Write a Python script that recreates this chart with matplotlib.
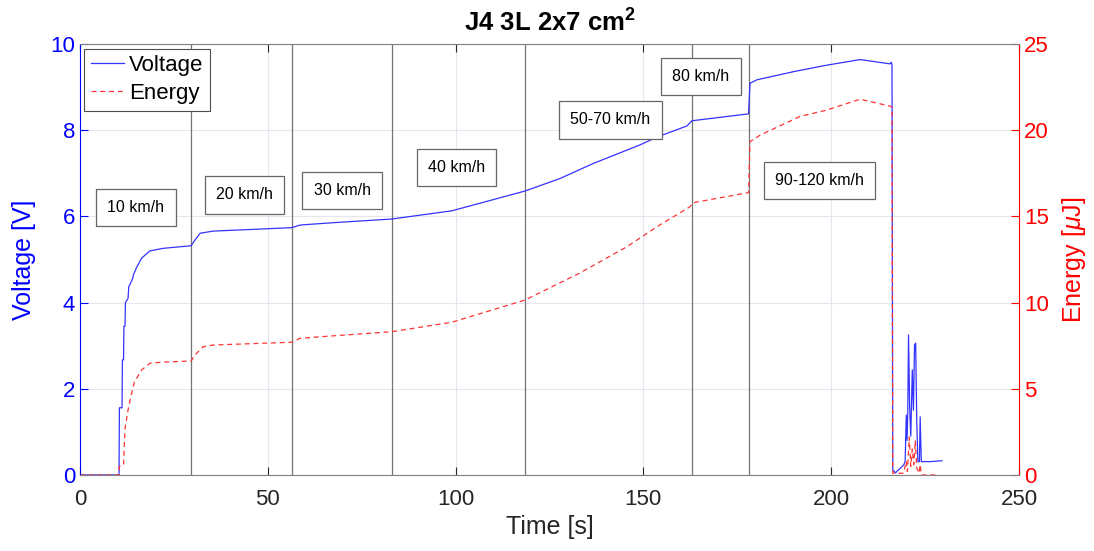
import numpy as np
import matplotlib
matplotlib.use("Agg")
import matplotlib.pyplot as plt

plt.rcParams['font.family'] = ['Liberation Sans', 'DejaVu Sans']
plt.rcParams['mathtext.fontset'] = 'custom'
plt.rcParams['mathtext.rm'] = 'Liberation Sans'
plt.rcParams['mathtext.it'] = 'Liberation Sans:italic'
plt.rcParams['mathtext.bf'] = 'Liberation Sans:bold'

# voltage trace [s], [V]
t_volt = [0, 10.4, 10.5, 11.2, 11.3, 11.6, 11.7, 12.0, 12.1, 12.8, 13.0, 14.0,
          14.2, 15.1, 16.4, 18.6, 22.2, 29.6, 30.6, 32.0, 35.5, 48.8, 56.4,
          58.6, 66.6, 83.0, 99.0, 118.5, 127.8, 136.7, 149.1, 153.6, 161.6,
          162.9, 178.0, 178.4, 180.2, 190.0, 198.8, 207.7, 208.6, 215.7, 216.0,
          216.2, 216.4, 217.1, 219.3, 219.7, 220.0, 220.2, 220.4, 220.6, 220.9,
          221.2, 221.6, 221.9, 222.2, 222.5, 222.8, 223.1, 223.5, 223.7, 224.0,
          226.4, 229.5]
volt = [0, 0, 1.56, 1.56, 2.67, 2.67, 3.45, 3.45, 4.0, 4.1, 4.37, 4.55,
        4.64, 4.82, 5.03, 5.2, 5.26, 5.32, 5.45, 5.61, 5.66, 5.71, 5.74,
        5.80, 5.85, 5.94, 6.13, 6.59, 6.88, 7.23, 7.66, 7.84, 8.10,
        8.22, 8.38, 9.09, 9.17, 9.36, 9.51, 9.64, 9.63, 9.54, 9.58,
        9.52, 0.12, 0.05, 0.23, 0.31, 1.39, 0.8, 1.44, 3.25, 1.58,
        0.9, 2.44, 1.5, 3.02, 3.06, 1.2, 0.31, 0.31, 1.35, 0.31,
        0.31, 0.33]

# stored energy [s], [uJ]
t_energy = [0, 10.4, 10.5, 11.6, 12.0, 12.8, 13.5, 14.5, 16.4, 18.6, 22.2,
            29.6, 30.6, 32.8, 35.5, 56.4, 58.6, 66.6, 83.0, 99.0, 118.5,
            133.2, 145.6, 153.6, 162.4, 163.3, 178.0, 178.4, 181.1, 191.7,
            198.8, 207.7, 215.7, 216.2, 216.4, 219.3, 220.0, 220.3, 220.8,
            221.2, 221.6, 222.0, 222.4, 222.8, 223.4, 223.7, 224.0, 228.0]
energy = [0, 0, 0.5, 0.58, 2.7, 3.77, 4.5, 5.4, 6.09, 6.48, 6.55,
          6.61, 6.96, 7.44, 7.54, 7.7, 7.93, 8.06, 8.31, 8.86, 10.15,
          11.73, 13.24, 14.4, 15.56, 15.8, 16.38, 19.34, 19.72, 20.8,
          21.17, 21.8, 21.4, 21.35, 0.1, 0.1, 0.8, 0.2, 2.2,
          0.5, 1.5, 0.6, 2.0, 0.4, 0.1, 0.6, 0.0, 0.0]

# speed changes
t_changes = [29.6, 56.4, 83.0, 118.5, 162.9, 178.0]
speed_labels = ["10 km/h", "20 km/h", "30 km/h", "40 km/h",
                "50-70 km/h", "80 km/h", "90-120 km/h"]
label_t = [14.9, 43.9, 69.8, 100.3, 141.2, 165.3, 196.8]
label_v = [6.2, 6.5, 6.6, 7.13, 8.24, 9.25, 6.84]

blue = (0, 0, 1)
red = (1, 0, 0)
dark = (0.15, 0.15, 0.15)

fig = plt.figure(figsize=(10.94, 5.51), dpi=100)
ax = fig.add_axes([0.0731, 0.138, 0.8583, 0.782])
ax2 = ax.twinx()

l1, = ax.plot(t_volt, volt, color=(0.2, 0.2, 1.0), lw=0.9, label="Voltage")
l2, = ax2.plot(t_energy, energy, color=(1.0, 0.2, 0.2), lw=0.9,
               ls=(0, (4, 3)), label="Energy")

for tc in t_changes:
    ax.axvline(tc, color=(0.45, 0.45, 0.45), lw=0.9, zorder=1)

for s, tx, vy in zip(speed_labels, label_t, label_v):
    ax.text(tx, vy, s, ha="center", va="center", fontsize=11.5, color="black",
            zorder=5,
            bbox=dict(boxstyle="square,pad=0.7", fc="white",
                      ec=(0.4, 0.4, 0.4), lw=0.9))

ax.set_xlim(0, 250)
ax.set_ylim(0, 10)
ax2.set_ylim(0, 25)
ax.set_xticks([0, 50, 100, 150, 200, 250])
ax.set_yticks([0, 2, 4, 6, 8, 10])
ax2.set_yticks([0, 5, 10, 15, 20, 25])

ax.grid(True, color=(0.9, 0.9, 0.94), lw=0.8)
ax.set_axisbelow(True)

ax.tick_params(axis="x", direction="in", length=6, colors=dark, labelsize=16,
               top=True, pad=10, width=0.8)
ax.tick_params(axis="y", direction="in", length=6, colors=blue, labelsize=16,
               width=0.8)
ax2.tick_params(axis="y", direction="in", length=6, colors=red, labelsize=16,
                width=0.8)

for sp in ["top", "bottom"]:
    ax2.spines[sp].set_color((0.5, 0.5, 0.5))
ax2.spines["left"].set_color(blue)
ax2.spines["right"].set_color(red)
for sp in ax.spines.values():
    sp.set_visible(False)

ax.set_xlabel("Time [s]", fontsize=18, color=dark, labelpad=4)
ax.set_ylabel("Voltage [V]", fontsize=18, color=blue, labelpad=10)
ax2.set_ylabel(r"Energy [$\mu$J]", fontsize=18, color=red, labelpad=8)
ax.set_title(r"J4 3L 2x7 cm$^\mathbf{2}$", fontsize=18.5, fontweight="bold",
             color="black", pad=9)

leg = ax2.legend(handles=[l1, l2], loc="upper left", fontsize=16,
                 handlelength=1.5, handletextpad=0.2, borderpad=0.3,
                 labelspacing=0.3, fancybox=False, framealpha=1,
                 edgecolor=(0.3, 0.3, 0.3), borderaxespad=0.2)
leg.get_frame().set_linewidth(0.8)

fig.savefig("out.png", dpi=100)
